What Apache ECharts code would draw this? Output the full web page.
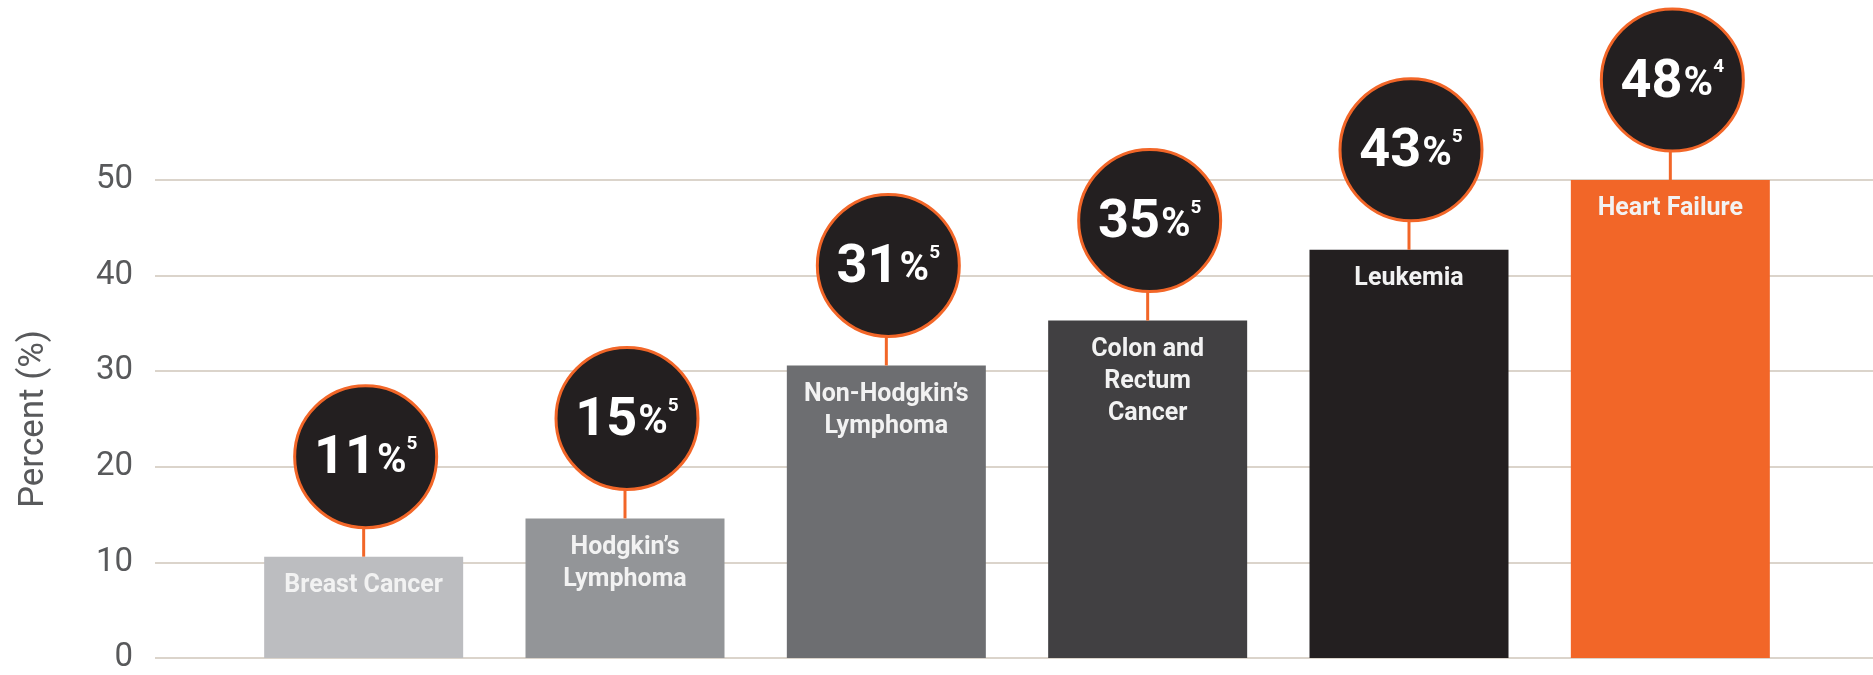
<!DOCTYPE html>
<html>
<head>
<meta charset="utf-8">
<script src="https://cdn.jsdelivr.net/npm/echarts@6/dist/echarts.min.js"></script>
<style>
html,body{margin:0;padding:0;background:#ffffff;}
#chart{width:1873px;height:675px;}
</style>
</head>
<body>
<div id="chart"></div>
<script>
// ---- data ----
var categories = ["Breast Cancer", "Hodgkin\u2019s\nLymphoma", "Non-Hodgkin\u2019s\nLymphoma", "Colon and\nRectum\nCancer", "Leukemia", "Heart Failure"];
var barValues = [10.6, 14.6, 30.6, 35.3, 42.7, 50];
var labelValues = [11, 15, 31, 35, 43, 48];
var references = ["5", "5", "5", "5", "5", "4"];
var barColors = ["#bcbdc0", "#939598", "#6d6e71", "#414042", "#231f20", "#f26628"];
var yTicks = [0, 10, 20, 30, 40, 50];

var chart = echarts.init(document.getElementById('chart'), null, {renderer: 'canvas'});

var TOP = 180, BOTTOM = 17;
var option = {
  backgroundColor: '#ffffff',
  animation: false,
  grid: [
    {left: 155, right: 0, top: TOP, bottom: BOTTOM},
    {left: 233, right: 72, top: TOP, bottom: BOTTOM}
  ],
  xAxis: [
    {gridIndex: 0, type: 'category', data: categories, show: false},
    {gridIndex: 1, type: 'category', data: categories, show: false}
  ],
  yAxis: [
    {
      gridIndex: 0, type: 'value', min: yTicks[0], max: yTicks[yTicks.length - 1], interval: 10,
      name: 'Percent (%)', nameLocation: 'middle', nameRotate: 90, nameGap: 103,
      nameTextStyle: {fontFamily: 'Roboto', fontSize: 35, color: '#58595b'},
      axisLine: {show: false}, axisTick: {show: false},
      axisLabel: {fontFamily: 'Roboto', fontSize: 33, color: '#58595b', margin: 22},
      splitLine: {show: true, lineStyle: {color: '#dbd4cb', width: 2}}
    },
    {
      gridIndex: 1, type: 'value', min: yTicks[0], max: yTicks[yTicks.length - 1], interval: 10,
      show: false, splitLine: {show: false}
    }
  ],
  series: [
    {
      type: 'bar', xAxisIndex: 1, yAxisIndex: 1, barWidth: 199, z: 2,
      data: barValues.map(function (v, i) {
        return {value: v, itemStyle: {color: barColors[i]}};
      }),
      label: {
        show: true, position: 'insideTop', distance: 13,
        formatter: function (p) { return categories[p.dataIndex]; },
        fontFamily: 'Roboto', fontWeight: 'bold', fontSize: 25, lineHeight: 32,
        color: '#f2f2f2', align: 'center'
      }
    },
    {
      type: 'scatter', xAxisIndex: 1, yAxisIndex: 1, z: 3,
      symbol: 'rect', symbolSize: [3, 30], symbolOffset: [0, -15],
      itemStyle: {color: '#f26628', opacity: 1},
      data: barValues.slice(),
      silent: true
    },
    {
      type: 'scatter', xAxisIndex: 1, yAxisIndex: 1, z: 4,
      symbol: 'circle', symbolSize: 142, symbolOffset: [2, -100],
      itemStyle: {color: '#231f20', borderColor: '#f26628', borderWidth: 3, opacity: 1},
      data: barValues.slice(),
      label: {
        show: true, position: 'inside', offset: [0, 3],
        formatter: function (p) {
          return '{n|' + labelValues[p.dataIndex] + '}{p|%}{s|' + references[p.dataIndex] + '}';
        },
        rich: {
          n: {fontFamily: 'Roboto', fontWeight: 'bold', fontSize: 54, lineHeight: 54, color: '#ffffff', verticalAlign: 'bottom'},
          p: {fontFamily: 'Roboto', fontWeight: 'bold', fontSize: 40, lineHeight: 40, color: '#ffffff', verticalAlign: 'bottom', padding: [0, 0, 5, 1]},
          s: {fontFamily: 'Roboto', fontWeight: 'bold', fontSize: 19, lineHeight: 19, color: '#ffffff', verticalAlign: 'top', padding: [2, 0, 0, 0]}
        }
      }
    }
  ]
};
chart.setOption(option);
</script>
</body>
</html>
